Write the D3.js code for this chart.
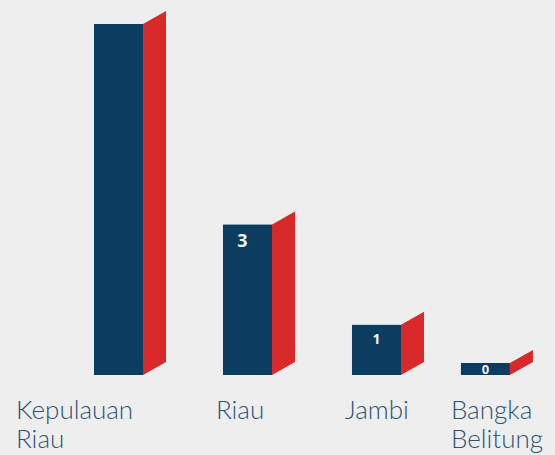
<!DOCTYPE html>
<html>
<head>
<meta charset="utf-8">
<script src="https://cdn.jsdelivr.net/npm/d3@7"></script>
<style>
  html, body { margin: 0; padding: 0; background: #eeeeee; }
  svg { display: block; }
</style>
</head>
<body>
<script>
// Provinces and their counts
const categories = ["Kepulauan Riau", "Riau", "Jambi", "Bangka Belitung"];
const values = [7, 3, 1, 0];
const showValue = [false, true, true, true];
const valueFontSizes = [18, 18, 14, 13];

const W = 555, H = 455;
const baseY = 375, topY = 21;
const depthX = 23, depthY = 13;
const minBarH = 12;
const labelSize = 26;
const rightReserve = 12;

const svg = d3.select("body").append("svg")
  .attr("width", W).attr("height", H)
  .style("background", "#eeeeee");

const x = d3.scaleBand()
  .domain(categories)
  .range([94, 530])
  .paddingInner(0.62)
  .paddingOuter(0);

const y = d3.scaleLinear().domain([0, 7.06]).range([baseY, topY]);

const labelFont = `300 ${labelSize}px Lato, 'Open Sans', sans-serif`;

// measure label widths so the last column keeps its label inside the view
const ctx = document.createElement("canvas").getContext("2d");
ctx.font = labelFont;
function labelWidth(name) {
  return d3.max(name.split(" "), w => ctx.measureText(w).width);
}

const cols = categories.map((c, i) => {
  let bx = x(c);
  const lx0 = bx - 10;
  const over = lx0 + labelWidth(c) - (W - rightReserve);
  if (over > 0) bx -= over;
  const top = Math.min(y(values[i]), baseY - minBarH);
  return { name: c, value: values[i], i, bx, top, lx: i === 0 ? 16 : bx - (over > 0 ? 10 : 7) };
});

const bw = x.bandwidth();

const g = svg.append("g");

// side faces
g.selectAll("path.side").data(cols).join("path")
  .attr("class", "side")
  .attr("fill", "#d9292a")
  .attr("d", d => {
    const x1 = d.bx + bw;
    return `M${x1},${d.top}L${x1 + depthX},${d.top - depthY}L${x1 + depthX},${baseY - depthY}L${x1},${baseY}Z`;
  });

// front faces
g.selectAll("rect.front").data(cols).join("rect")
  .attr("class", "front")
  .attr("x", d => d.bx)
  .attr("y", d => d.top)
  .attr("width", bw)
  .attr("height", d => baseY - d.top)
  .attr("fill", "#0a3d5f");

// value labels
g.selectAll("text.val").data(cols.filter(d => showValue[d.i])).join("text")
  .attr("class", "val")
  .attr("x", d => d.bx + bw / 2 - (d.value === 3 ? 5 : 0))
  .attr("y", d => d.value === 0 ? (d.top + baseY) / 2 + 5 : d.top + 9 + valueFontSizes[d.i] * 0.72)
  .attr("text-anchor", "middle")
  .attr("fill", "#f0f3f5")
  .attr("font-family", "'Open Sans', 'DejaVu Sans', sans-serif")
  .attr("font-weight", 700)
  .attr("font-size", d => valueFontSizes[d.i])
  .text(d => d.value);

// category labels
const lab = g.selectAll("text.cat").data(cols).join("text")
  .attr("class", "cat")
  .attr("x", d => d.lx)
  .attr("y", 419)
  .attr("fill", "#2b5474")
  .attr("font-family", "Lato, 'Open Sans', sans-serif")
  .attr("font-weight", 300)
  .attr("font-size", labelSize);

lab.selectAll("tspan").data(d => d.name.split(" ").map(w => ({ w, lx: d.lx })))
  .join("tspan")
  .attr("x", t => t.lx)
  .attr("dy", (t, i) => i === 0 ? 0 : 29)
  .text(t => t.w);
</script>
</body>
</html>
